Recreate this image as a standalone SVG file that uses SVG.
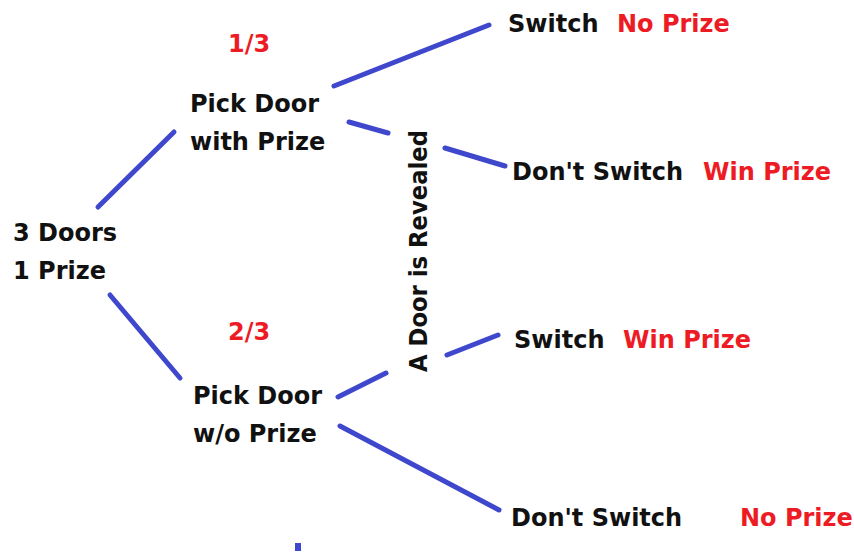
<svg xmlns="http://www.w3.org/2000/svg" width="854" height="556" viewBox="0 0 854 556">
<style>
text{font-family:"DejaVu Sans","Verdana",sans-serif;font-weight:bold;font-size:24px;fill:#111}
.r{fill:#ed1c24}
.c line{stroke:#3f48cc;stroke-width:5;stroke-linecap:round}
</style>
<rect width="854" height="556" fill="#fff"/>
<g class="c" id="connectors">
<line x1="98" y1="207" x2="174" y2="132"/>
<line x1="110" y1="295" x2="180" y2="378"/>
<line x1="334" y1="86" x2="489" y2="25"/>
<line x1="349" y1="122" x2="388" y2="133"/>
<line x1="445" y1="148" x2="505" y2="166"/>
<line x1="338" y1="397" x2="386" y2="373"/>
<line x1="447" y1="355" x2="498" y2="335"/>
<line x1="340" y1="426" x2="499" y2="510"/>
<rect x="295" y="543" width="6" height="8" fill="#3f48cc" stroke="none"/>
</g>
<g id="root"><text x="13" y="241">3 Doors</text><text x="13" y="279">1 Prize</text></g>
<g id="p13"><text class="r" x="228" y="52">1/3</text></g>
<g id="pickWith"><text x="190" y="112">Pick Door</text><text x="190" y="150">with Prize</text></g>
<g id="p23"><text class="r" x="228" y="340">2/3</text></g>
<g id="pickWithout"><text x="193" y="404">Pick Door</text><text x="193" y="442">w/o Prize</text></g>
<g id="revealed"><text transform="translate(427,251) rotate(-90)" text-anchor="middle" textLength="242" lengthAdjust="spacingAndGlyphs">A Door is Revealed</text></g>
<g id="o1"><text x="508" y="32">Switch</text><text class="r" x="617" y="32">No Prize</text></g>
<g id="o2"><text x="512" y="180">Don't Switch</text><text class="r" x="703" y="180">Win Prize</text></g>
<g id="o3"><text x="514" y="348">Switch</text><text class="r" x="623" y="348">Win Prize</text></g>
<g id="o4"><text x="511" y="526">Don't Switch</text><text class="r" x="740" y="526">No Prize</text></g>
</svg>
